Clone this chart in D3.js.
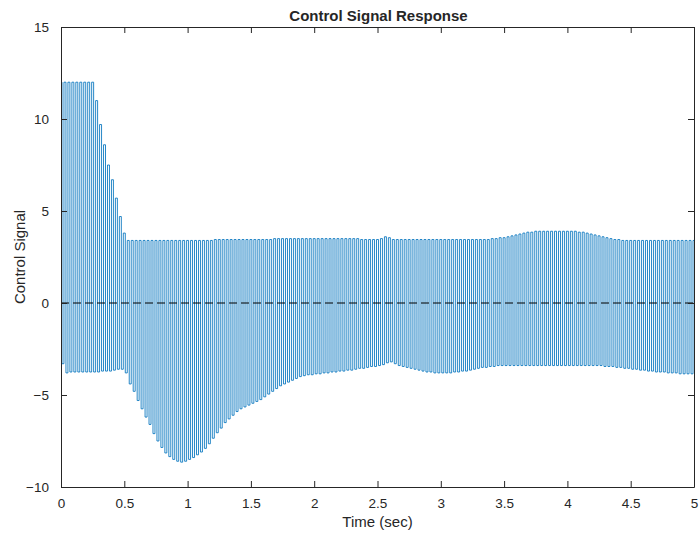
<!DOCTYPE html>
<html>
  <head>
    <meta charset="utf-8">
    <title>Control Signal Response</title>
    <style>
      body { margin: 0; background: #fff; }
      svg text { font-family: "Liberation Sans", Arial, sans-serif; fill: #262626; }
    </style>
  </head>
  <body>
    <svg width="699" height="534"></svg>
  </body>
  <script src="https://cdn.jsdelivr.net/npm/d3@7"></script>
  <script type="text/javascript">
  // one switching cycle every 1/32 s, high value at t, low value half a cycle later
  const cycle = 1 / 32;

  // peak values of each cycle, 16 cycles per row (0.5 s)
  const highs = [
    12, 12, 12, 12, 12, 12, 12, 12, 12, 11.0, 9.7, 8.6, 7.5, 6.7, 5.7, 4.7,
    3.8, 3.4, 3.4, 3.4, 3.4, 3.4, 3.4, 3.4, 3.4, 3.4, 3.4, 3.4, 3.4, 3.4, 3.4, 3.4,
    3.4, 3.4, 3.4, 3.4, 3.4, 3.4, 3.4, 3.45, 3.45, 3.45, 3.45, 3.45, 3.45, 3.45, 3.45, 3.45,
    3.45, 3.45, 3.45, 3.45, 3.45, 3.45, 3.5, 3.5, 3.5, 3.5, 3.5, 3.5, 3.5, 3.5, 3.5, 3.5,
    3.5, 3.5, 3.5, 3.5, 3.5, 3.5, 3.5, 3.5, 3.5, 3.5, 3.5, 3.5, 3.45, 3.45, 3.45, 3.45,
    3.45, 3.5, 3.6, 3.55, 3.45, 3.45, 3.45, 3.45, 3.45, 3.45, 3.45, 3.45, 3.45, 3.45, 3.45, 3.45,
    3.45, 3.45, 3.45, 3.45, 3.45, 3.45, 3.45, 3.45, 3.45, 3.45, 3.45, 3.45, 3.45, 3.5, 3.5, 3.55,
    3.55, 3.6, 3.65, 3.7, 3.75, 3.8, 3.85, 3.85, 3.9, 3.9, 3.9, 3.9, 3.9, 3.9, 3.9, 3.9,
    3.9, 3.9, 3.9, 3.85, 3.85, 3.8, 3.75, 3.7, 3.65, 3.6, 3.55, 3.5, 3.45, 3.45, 3.4, 3.4,
    3.4, 3.4, 3.4, 3.4, 3.4, 3.4, 3.4, 3.4, 3.4, 3.4, 3.4, 3.4, 3.4, 3.4, 3.4, 3.4
  ];

  const lows = [
    -3.3, -3.8, -3.75, -3.75, -3.75, -3.75, -3.75, -3.75, -3.75, -3.75, -3.7, -3.7, -3.7, -3.65, -3.6, -3.6,
    -3.8, -4.4, -4.8, -5.3, -5.75, -6.2, -6.6, -7.1, -7.5, -7.85, -8.15, -8.35, -8.5, -8.6, -8.65, -8.6,
    -8.5, -8.4, -8.25, -8.1, -7.9, -7.65, -7.35, -7.05, -6.8, -6.5, -6.3, -6.1, -5.9, -5.75, -5.65, -5.55,
    -5.45, -5.35, -5.25, -5.1, -4.95, -4.8, -4.65, -4.5, -4.4, -4.3, -4.2, -4.1, -4.0, -3.95, -3.9, -3.9,
    -3.85, -3.85, -3.8, -3.8, -3.75, -3.75, -3.7, -3.7, -3.65, -3.65, -3.6, -3.55, -3.55, -3.5, -3.45, -3.45,
    -3.4, -3.35, -3.25, -3.2, -3.3, -3.4, -3.45, -3.5, -3.55, -3.6, -3.65, -3.7, -3.75, -3.75, -3.8, -3.8,
    -3.8, -3.8, -3.8, -3.75, -3.75, -3.7, -3.7, -3.65, -3.6, -3.55, -3.5, -3.5, -3.45, -3.45, -3.4, -3.4,
    -3.4, -3.4, -3.4, -3.4, -3.4, -3.4, -3.4, -3.4, -3.4, -3.4, -3.4, -3.4, -3.4, -3.4, -3.4, -3.4,
    -3.4, -3.4, -3.4, -3.4, -3.4, -3.4, -3.4, -3.4, -3.4, -3.45, -3.45, -3.45, -3.5, -3.5, -3.55, -3.55,
    -3.6, -3.6, -3.65, -3.65, -3.7, -3.7, -3.75, -3.75, -3.75, -3.8, -3.8, -3.8, -3.85, -3.85, -3.85, -3.85
  ];

  const xTicks = [0, 0.5, 1, 1.5, 2, 2.5, 3, 3.5, 4, 4.5, 5];
  const yTicks = [-10, -5, 0, 5, 10, 15];

  const margin = {top: 27, right: 5, bottom: 47, left: 61};
  const svg = d3.select('svg');
  const W = +svg.attr('width'), H = +svg.attr('height');
  const w = W - margin.left - margin.right, h = H - margin.top - margin.bottom;

  const x = d3.scaleLinear().domain([0, 5]).range([0, w]);
  const y = d3.scaleLinear().domain([-10, 15]).range([h, 0]);

  const g = svg.append('g').attr('transform', 'translate(' + margin.left + ',' + margin.top + ')');

  g.append('clipPath').attr('id', 'clip')
    .append('rect').attr('width', w).attr('height', h);

  // build the trace: high at start of each cycle, low at half cycle
  let pts = [];
  highs.forEach(function(v, i) {
    pts.push([i * cycle, v]);
    pts.push([i * cycle + cycle / 2, lows[i]]);
  });
  pts.push([5, highs[highs.length - 1]]);

  const line = d3.line()
    .x(function(d) { return x(d[0]); })
    .y(function(d) { return y(d[1]); })
    .curve(d3.curveStep);

  g.append('path')
    .datum(pts)
    .attr('clip-path', 'url(#clip)')
    .attr('d', line)
    .attr('fill', 'none')
    .attr('stroke', '#0072BD')
    .attr('stroke-width', 0.85);

  // reference line at zero
  g.append('line')
    .attr('x1', 0).attr('x2', w)
    .attr('y1', y(0)).attr('y2', y(0))
    .attr('stroke', '#000')
    .attr('stroke-width', 1)
    .attr('stroke-dasharray', '8,4');

  // axes (ticks pointing inward, matlab style)
  const axisColor = '#262626';
  const axB = g.append('g').attr('transform', 'translate(0,' + h + ')')
    .call(d3.axisBottom(x).tickValues(xTicks).tickSizeInner(-6).tickSizeOuter(0).tickPadding(11).tickFormat(d3.format('')));
  const axT = g.append('g')
    .call(d3.axisTop(x).tickValues(xTicks).tickSizeInner(-6).tickSizeOuter(0).tickFormat(''));
  const axL = g.append('g')
    .call(d3.axisLeft(y).tickValues(yTicks).tickSizeInner(-6).tickSizeOuter(0).tickPadding(12));
  const axR = g.append('g').attr('transform', 'translate(' + w + ',0)')
    .call(d3.axisRight(y).tickValues(yTicks).tickSizeInner(-6).tickSizeOuter(0).tickFormat(''));

  [axB, axT, axL, axR].forEach(function(a) {
    a.select('.domain').attr('stroke', axisColor);
    a.selectAll('.tick line').attr('stroke', axisColor);
    a.selectAll('.tick text').attr('font-size', 13.5).attr('fill', axisColor);
  });

  svg.append('text')
    .attr('x', margin.left + w / 2 + 1).attr('y', 21)
    .attr('text-anchor', 'middle')
    .attr('font-size', 15).attr('font-weight', 'bold')
    .text('Control Signal Response');

  svg.append('text')
    .attr('x', margin.left + w / 2).attr('y', 527)
    .attr('text-anchor', 'middle')
    .attr('font-size', 15)
    .text('Time (sec)');

  svg.append('text')
    .attr('transform', 'translate(25,' + (margin.top + h / 2) + ') rotate(-90)')
    .attr('text-anchor', 'middle')
    .attr('font-size', 15)
    .text('Control Signal');
  </script>
</html>
